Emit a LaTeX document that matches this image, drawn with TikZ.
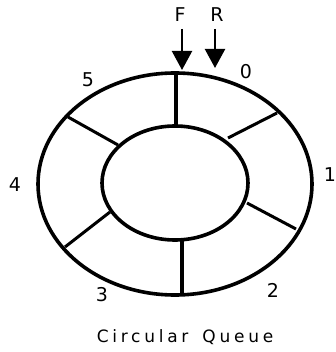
\documentclass[tikz,border=0pt]{standalone}
\usepackage{fontspec}
\setmainfont{DejaVu Sans}
\newfontfamily\spaced[LetterSpace=22]{DejaVu Sans}
\usetikzlibrary{arrows.meta}
\begin{document}
\begin{tikzpicture}[x=1pt,y=-1pt,
  ring/.style={line width=3.6pt},
  spoke/.style={line width=3pt},
  vspoke/.style={line width=4pt},
  lbl/.style={font=\fontsize{19}{19}\selectfont, inner sep=0pt},
  ptr/.style={line width=2.2pt,-{Triangle[width=20pt,length=19pt]}}]
\useasboundingbox (0,0) rectangle (335,352);
\draw[ring] (175,184) ellipse [x radius=137, y radius=111];
\draw[ring] (175,183) ellipse [x radius=73, y radius=57];
\coordinate (t1) at (176,73); \coordinate (t2) at (176,126);
\coordinate (b1) at (182,240); \coordinate (b2) at (182,295);
\coordinate (ur1) at (228,138); \coordinate (ur2) at (277,113);
\coordinate (lr1) at (247,203); \coordinate (lr2) at (296,229);
\coordinate (ul1) at (118,145); \coordinate (ul2) at (68,117);
\coordinate (ll1) at (110,212); \coordinate (ll2) at (65,247);
\draw[vspoke] (t1) -- (t2);
\draw[vspoke] (b1) -- (b2);
\draw[spoke] (ur1) -- (ur2);
\draw[spoke] (lr1) -- (lr2);
\draw[spoke] (ul1) -- (ul2);
\draw[spoke] (ll1) -- (ll2);
\node[lbl] (F) at (180,15) {F};
\node[lbl] (R) at (217,15) {R};
\coordinate (fe) at (182,70);
\coordinate (re) at (215,68);
\draw[ptr] (182,29) -- (fe);
\draw[ptr] (215,29) -- (re);
\node[lbl] (n0) at (246,72) {0};
\node[lbl] (n1) at (330,175) {1};
\node[lbl] (n2) at (273,290) {2};
\node[lbl] (n3) at (102,295) {3};
\node[lbl] (n4) at (15,185) {4};
\node[lbl] (n5) at (88,80) {5};
\node[inner sep=0pt, font=\spaced\fontsize{17}{17}\selectfont] (cap) at (185,337) {Circular\kern14pt Queue};
\end{tikzpicture}
\end{document}
